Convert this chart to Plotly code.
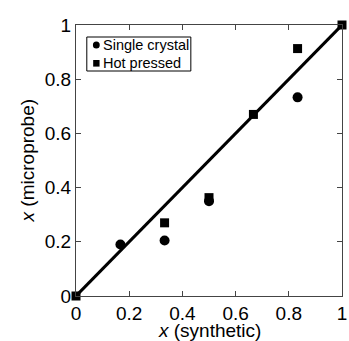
import plotly.graph_objects as go

sc_x = [0.167, 0.333, 0.5, 0.833]
sc_y = [0.19, 0.205, 0.35, 0.733]
hp_x = [0.0, 0.333, 0.5, 0.667, 0.833, 1.0]
hp_y = [0.0, 0.27, 0.363, 0.67, 0.913, 1.0]
fit_x = [0, 1]
fit_y = [0, 1]
ticks = [0, 0.2, 0.4, 0.6, 0.8, 1]
legend_names = ["Single crystal", "Hot pressed"]

FONT = "Liberation Sans, Arial"
W, H = 349, 341
ML, MR, MT, MB = 76, 2, 25, 45
PW, PH = W - ML - MR, H - MT - MB


def px(xp):
    return (xp - ML) / PW


def py(yp):
    return (H - MB - yp) / PH


fig = go.Figure()
fig.add_trace(go.Scatter(x=fit_x, y=fit_y, mode="lines", line=dict(color="black", width=3),
                         showlegend=False, cliponaxis=False))
fig.add_trace(go.Scatter(x=sc_x, y=sc_y, mode="markers", name=legend_names[0], showlegend=False,
                         marker=dict(symbol="circle", size=10, color="black"), cliponaxis=False))
fig.add_trace(go.Scatter(x=hp_x, y=hp_y, mode="markers", name=legend_names[1], showlegend=False,
                         marker=dict(symbol="square", size=9, color="black"), cliponaxis=False))

axis = dict(range=[0, 1], tickvals=ticks, ticktext=[str(t) for t in ticks], showgrid=False,
            zeroline=False, showline=True, linecolor="#444", linewidth=1, mirror="ticks",
            ticks="inside", ticklen=5, tickcolor="#444", ticklabeloverflow="allow",
            tickfont=dict(size=19, color="black", family=FONT))

# compact legend box drawn manually
row_y = [45, 63.3]
shapes = [
    dict(type="rect", xref="paper", yref="paper", x0=px(87), x1=px(193), y0=py(71), y1=py(37),
         line=dict(color="black", width=1), fillcolor="white", layer="above"),
    dict(type="circle", xref="paper", yref="paper", x0=px(93.2), x1=px(100.2),
         y0=py(row_y[0] + 3.5), y1=py(row_y[0] - 3.5), line=dict(width=0), fillcolor="black",
         layer="above"),
    dict(type="rect", xref="paper", yref="paper", x0=px(93.5), x1=px(100), y0=py(row_y[1] + 3.3),
         y1=py(row_y[1] - 3.3), line=dict(width=0), fillcolor="black", layer="above"),
]
annotations = [
    dict(text="<i>x</i> (synthetic)", xref="paper", yref="paper", x=0.5, y=-0.127,
         xanchor="center", yanchor="middle", showarrow=False,
         font=dict(size=19, color="black", family=FONT)),
    dict(text="<i>x</i> (microprobe)", xref="paper", yref="paper", x=px(27), y=0.5,
         xanchor="center", yanchor="middle", showarrow=False, textangle=-90,
         font=dict(size=19, color="black", family=FONT)),
]
for name, ry in zip(legend_names, row_y):
    annotations.append(dict(text=name, xref="paper", yref="paper", x=px(101.5), y=py(ry),
                            xanchor="left", yanchor="middle", showarrow=False,
                            font=dict(size=14.5, color="black", family=FONT)))

fig.update_layout(
    width=W, height=H,
    margin=dict(l=ML, r=MR, t=MT, b=MB),
    plot_bgcolor="white", paper_bgcolor="white",
    xaxis=axis,
    yaxis=axis,
    showlegend=False,
    shapes=shapes,
    annotations=annotations,
)
fig.write_html("out.html", post_script="document.body.style.margin='0';",
               config={"displayModeBar": False})
